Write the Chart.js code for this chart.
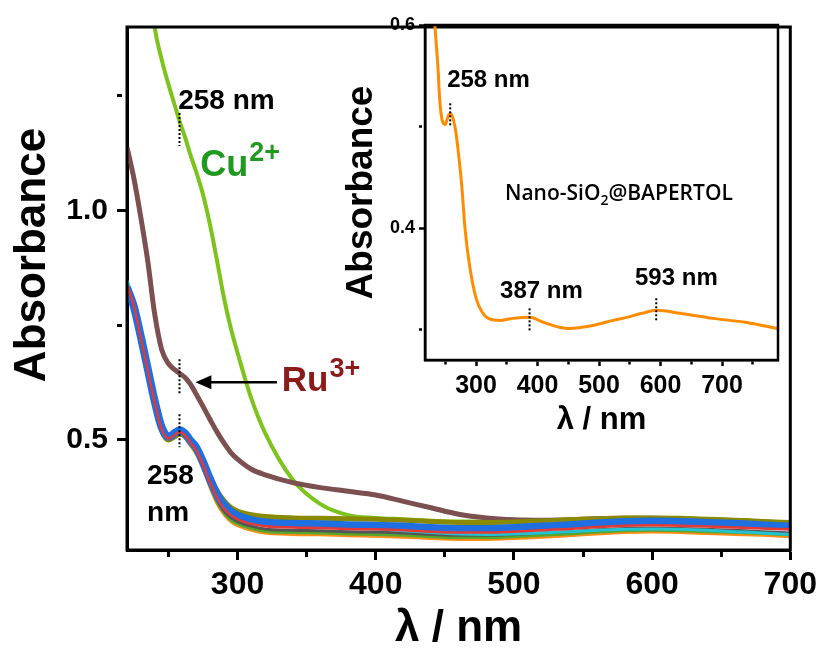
<!DOCTYPE html>
<html>
<head>
<meta charset="utf-8">
<title>UV-Vis absorbance</title>
<script src="https://cdn.jsdelivr.net/npm/chart.js@4.4.1/dist/chart.umd.min.js"></script>
<style>
  body { margin: 0; background: #fff; }
  #wrap { position: relative; width: 823px; height: 651px; }
  #mainChart { position: absolute; left: 0; top: 0; }
  #insetChart { position: absolute; left: 340px; top: 0; }
</style>
</head>
<body>
<div id="wrap">
  <canvas id="mainChart" width="823" height="651"></canvas>
  <canvas id="insetChart" width="450" height="440"></canvas>
</div>
<script>
// wavelengths (nm) shared by all spectra in the main panel
const wavelengths = [220, 225, 230, 235, 240, 245, 250, 255, 258, 262, 266, 270, 275, 280, 285, 290, 295, 300,
  310, 320, 340, 360, 380, 400, 420, 440, 460, 480, 500, 520, 540, 560, 580, 600, 620, 640, 660, 680, 700];

// Cu2+ and Ru3+ spectra
const cuAbs = [2.05, 1.88, 1.71, 1.54, 1.40, 1.330, 1.275, 1.225, 1.195, 1.160, 1.120, 1.085, 1.035, 0.970, 0.893, 0.812, 0.745, 0.690,
  0.590, 0.515, 0.413, 0.360, 0.336, 0.330, 0.327, 0.324, 0.322, 0.322, 0.323, 0.324, 0.326, 0.328, 0.330, 0.330, 0.329, 0.327, 0.325, 0.322, 0.320];
const ruAbs = [1.138, 1.070, 0.985, 0.890, 0.775, 0.698, 0.666, 0.652, 0.645, 0.636, 0.621, 0.600, 0.573, 0.545, 0.518, 0.494, 0.473, 0.458,
  0.436, 0.424, 0.407, 0.396, 0.388, 0.380, 0.366, 0.352, 0.338, 0.330, 0.326, 0.325, 0.326, 0.328, 0.329, 0.329, 0.328, 0.326, 0.324, 0.321, 0.319];

// the other metal ions, all close to the free ligand
const blueAbs = [0.832, 0.790, 0.725, 0.655, 0.585, 0.528, 0.507, 0.516, 0.521, 0.514, 0.498, 0.484, 0.452, 0.415, 0.382, 0.359, 0.344, 0.335,
  0.325, 0.320, 0.317, 0.316, 0.314, 0.313, 0.311, 0.308, 0.306, 0.306, 0.308, 0.311, 0.314, 0.318, 0.321, 0.322, 0.321, 0.319, 0.317, 0.314, 0.311];
const redAbs = [0.838, 0.792, 0.722, 0.652, 0.582, 0.524, 0.503, 0.512, 0.517, 0.510, 0.494, 0.478, 0.446, 0.408, 0.375, 0.351, 0.336, 0.327,
  0.317, 0.312, 0.309, 0.308, 0.306, 0.305, 0.303, 0.300, 0.298, 0.298, 0.300, 0.303, 0.306, 0.310, 0.313, 0.314, 0.313, 0.311, 0.309, 0.307, 0.305];
const oliveAbs = [0.835, 0.795, 0.728, 0.660, 0.585, 0.522, 0.500, 0.508, 0.513, 0.509, 0.496, 0.481, 0.452, 0.420, 0.390, 0.368, 0.353, 0.345,
  0.337, 0.333, 0.330, 0.329, 0.328, 0.327, 0.325, 0.322, 0.320, 0.320, 0.321, 0.323, 0.326, 0.328, 0.330, 0.330, 0.329, 0.327, 0.325, 0.322, 0.320];
const cyanAbs = [0.848, 0.800, 0.728, 0.662, 0.588, 0.527, 0.510, 0.519, 0.524, 0.517, 0.501, 0.486, 0.455, 0.418, 0.386, 0.363, 0.348, 0.339,
  0.329, 0.322, 0.317, 0.313, 0.309, 0.306, 0.302, 0.298, 0.295, 0.294, 0.295, 0.297, 0.300, 0.303, 0.305, 0.306, 0.305, 0.303, 0.300, 0.297, 0.294];
const grayAbs = [0.830, 0.788, 0.720, 0.652, 0.580, 0.520, 0.503, 0.511, 0.516, 0.508, 0.492, 0.475, 0.442, 0.404, 0.370, 0.346, 0.331, 0.322,
  0.312, 0.306, 0.303, 0.302, 0.300, 0.299, 0.297, 0.294, 0.292, 0.292, 0.294, 0.297, 0.300, 0.304, 0.307, 0.308, 0.307, 0.305, 0.303, 0.300, 0.297];
const greenAbs = [0.828, 0.786, 0.718, 0.650, 0.578, 0.518, 0.500, 0.508, 0.513, 0.505, 0.489, 0.472, 0.439, 0.400, 0.366, 0.342, 0.326, 0.317,
  0.307, 0.301, 0.298, 0.297, 0.295, 0.294, 0.292, 0.289, 0.287, 0.287, 0.289, 0.292, 0.295, 0.299, 0.302, 0.303, 0.302, 0.300, 0.298, 0.296, 0.293];
const orangeAbs = [0.826, 0.784, 0.716, 0.648, 0.576, 0.516, 0.498, 0.506, 0.511, 0.503, 0.487, 0.469, 0.436, 0.397, 0.362, 0.338, 0.322, 0.313,
  0.303, 0.297, 0.294, 0.293, 0.291, 0.290, 0.288, 0.285, 0.283, 0.283, 0.285, 0.288, 0.291, 0.295, 0.298, 0.299, 0.298, 0.296, 0.294, 0.292, 0.289];

// inset: Nano-SiO2@BAPERTOL alone
const insetNm = [217, 222, 228, 233, 238, 241, 245, 250, 254, 258, 263, 267, 271, 277, 282, 290, 300, 310, 320, 340,
  360, 387, 410, 437, 453, 470, 490, 523, 545, 570, 593, 632, 685, 740, 791];
const insetAbs = [0.76, 0.70, 0.65, 0.60, 0.559, 0.526, 0.506, 0.502, 0.509, 0.513, 0.507, 0.495, 0.476, 0.440, 0.400, 0.361,
  0.331, 0.317, 0.311, 0.309, 0.311, 0.312, 0.307, 0.302, 0.301, 0.302, 0.304, 0.309, 0.312, 0.316, 0.319, 0.316, 0.311, 0.307, 0.301];

// ticks and their labels
const mainXTicks = [250, 300, 350, 400, 450, 500, 550, 600, 650, 700];
const mainXLabels = ['', '300', '', '400', '', '500', '', '600', '', '700'];
const mainYTicks = [0.5, 0.75, 1.0, 1.25];
const mainYLabels = ['0.5', '', '1.0', ''];
const insetXTicks = [250, 300, 350, 400, 450, 500, 550, 600, 650, 700, 750];
const insetXLabels = ['', '300', '', '400', '', '500', '', '600', '', '700', ''];
const insetYTicks = [0.3, 0.4, 0.5, 0.6];
const insetYLabels = ['', '0.4', '', '0.6'];

const FONT = '"Liberation Sans", Arial, Helvetica, sans-serif';
Chart.defaults.font.family = FONT;
Chart.defaults.color = '#000';

function pts(xs, ys) {
  return xs.map((x, i) => ({ x: x, y: ys[i] }));
}

function line(label, ys, color, width) {
  return {
    label: label,
    data: pts(wavelengths, ys),
    borderColor: color,
    borderWidth: width,
    pointRadius: 0,
    cubicInterpolationMode: 'monotone',
    fill: false
  };
}

function valueAt(xs, ys, x) {
  return ys[xs.indexOf(x)];
}

// short dotted vertical marker through a point of a curve
function dottedMark(ctx, px, py, up, down) {
  ctx.save();
  ctx.strokeStyle = '#000';
  ctx.lineWidth = 2;
  ctx.setLineDash([2, 2]);
  ctx.beginPath();
  ctx.moveTo(px, py - up);
  ctx.lineTo(px, py + down);
  ctx.stroke();
  ctx.restore();
}

function label(ctx, text, px, py, font, color) {
  ctx.font = font;
  ctx.fillStyle = color || '#000';
  ctx.textAlign = 'left';
  ctx.textBaseline = 'alphabetic';
  ctx.fillText(text, px, py);
  return ctx.measureText(text).width;
}

// label with a superscript charge, e.g. Cu2+
function ionLabel(ctx, base, sup, px, py, size, color) {
  const w = label(ctx, base, px, py, 'bold ' + size + 'px ' + FONT, color);
  label(ctx, sup, px + w + 1, py - size * 0.42, 'bold ' + Math.round(size * 0.76) + 'px ' + FONT, color);
}

function frame(chart, width) {
  const a = chart.chartArea;
  const ctx = chart.ctx;
  ctx.save();
  ctx.strokeStyle = '#000';
  ctx.lineWidth = width;
  ctx.strokeRect(a.left, a.top, a.right - a.left, a.bottom - a.top);
  ctx.restore();
}

const mainNotes = {
  id: 'mainNotes',
  afterDraw(chart) {
    const { ctx, scales: { x, y } } = chart;
    frame(chart, 3);

    // y title, set a little above the middle of the axis
    ctx.save();
    ctx.translate(45, 255);
    ctx.rotate(-Math.PI / 2);
    ctx.font = 'bold 44px ' + FONT;
    ctx.fillStyle = '#000';
    ctx.textAlign = 'center';
    ctx.textBaseline = 'alphabetic';
    ctx.fillText('Absorbance', 0, 0);
    ctx.restore();

    // 258 nm band on Cu2+, Ru3+ and the rest
    const px = x.getPixelForValue(258);
    dottedMark(ctx, px, y.getPixelForValue(valueAt(wavelengths, cuAbs, 258)), 8, 25);
    dottedMark(ctx, px, y.getPixelForValue(valueAt(wavelengths, ruAbs, 258)), 14, 20);
    dottedMark(ctx, px, y.getPixelForValue(valueAt(wavelengths, blueAbs, 258)), 16, 17);

    const f28 = 'bold 28px ' + FONT;
    label(ctx, '258 nm', x.getPixelForValue(257), y.getPixelForValue(1.221), f28);
    label(ctx, '258', x.getPixelForValue(234.5), y.getPixelForValue(0.404), f28);
    label(ctx, 'nm', x.getPixelForValue(234.5), y.getPixelForValue(0.323), f28);

    ionLabel(ctx, 'Cu', '2+', x.getPixelForValue(273), y.getPixelForValue(1.075), 36, '#1f9a1f');
    ionLabel(ctx, 'Ru', '3+', x.getPixelForValue(332), y.getPixelForValue(0.606), 35, '#8b1a1a');

    // arrow pointing at the Ru3+ shoulder
    const ay = y.getPixelForValue(0.6255);
    const x1 = x.getPixelForValue(328.5);
    const x2 = x.getPixelForValue(269.5);
    ctx.save();
    ctx.strokeStyle = '#000';
    ctx.fillStyle = '#000';
    ctx.lineWidth = 2.5;
    ctx.beginPath();
    ctx.moveTo(x1, ay);
    ctx.lineTo(x2 + 12, ay);
    ctx.stroke();
    ctx.beginPath();
    ctx.moveTo(x2, ay);
    ctx.lineTo(x2 + 16, ay - 7);
    ctx.lineTo(x2 + 16, ay + 7);
    ctx.closePath();
    ctx.fill();
    ctx.restore();
  }
};

const insetNotes = {
  id: 'insetNotes',
  afterDraw(chart) {
    const { ctx, scales: { x, y } } = chart;
    frame(chart, 2.5);

    dottedMark(ctx, x.getPixelForValue(258), y.getPixelForValue(valueAt(insetNm, insetAbs, 258)), 10, 14);
    dottedMark(ctx, x.getPixelForValue(387), y.getPixelForValue(valueAt(insetNm, insetAbs, 387)), 9, 15);
    dottedMark(ctx, x.getPixelForValue(593), y.getPixelForValue(valueAt(insetNm, insetAbs, 593)), 12, 10);

    const f24 = 'bold 24px ' + FONT;
    label(ctx, '258 nm', x.getPixelForValue(253), y.getPixelForValue(0.539), f24);
    label(ctx, '387 nm', x.getPixelForValue(339), y.getPixelForValue(0.331), f24);
    label(ctx, '593 nm', x.getPixelForValue(558.5), y.getPixelForValue(0.344), f24);

    // sample name with subscript 2
    const nf = '600 21px "Open Sans", ' + FONT;
    let nx = x.getPixelForValue(347);
    const ny = y.getPixelForValue(0.4276);
    nx += label(ctx, 'Nano-SiO', nx, ny, nf);
    nx += label(ctx, '2', nx, ny + 5, '600 14px "Open Sans", ' + FONT);
    label(ctx, '@BAPERTOL', nx, ny, nf);
  }
};

function axisOpts(min, max, tickVals, tickLabels, o) {
  return {
    type: 'linear',
    min: min,
    max: max,
    afterBuildTicks: axis => { axis.ticks = tickVals.map(v => ({ value: v })); },
    afterFit: axis => {
      if (axis.isHorizontal()) axis.height = o.size; else axis.width = o.size;
    },
    border: { display: true, color: '#000', width: o.line },
    grid: {
      drawOnChartArea: false,
      drawTicks: true,
      tickLength: o.tick,
      tickWidth: o.line,
      tickColor: '#000',
      tickBorderDash: c => (tickLabels[c.index] === '' ? [o.tick / 2, 40] : [])
    },
    ticks: {
      autoSkip: false,
      maxRotation: 0,
      padding: o.pad,
      color: '#000',
      font: { size: o.font, weight: 'bold' },
      callback: (v, i) => tickLabels[i]
    },
    title: {
      display: !!o.title,
      text: o.title,
      color: '#000',
      font: { size: o.titleSize, weight: 'bold', lineHeight: 1 },
      padding: o.titlePad
    }
  };
}

new Chart(document.getElementById('mainChart'), {
  type: 'line',
  data: {
    datasets: [
      line('red', redAbs, '#e53935', 2.5),
      line('blue', blueAbs, '#1f6fe0', 8),
      line('olive', oliveAbs, '#8a8a00', 5),
      line('cyan', cyanAbs, '#22c4d4', 3),
      line('gray', grayAbs, '#555555', 3),
      line('green', greenAbs, '#55a82a', 3),
      line('orange', orangeAbs, '#ff8c1a', 3),
      line('Ru3+', ruAbs, '#7c5050', 5),
      line('Cu2+', cuAbs, '#7cc41c', 4)
    ]
  },
  options: {
    responsive: false,
    animation: false,
    devicePixelRatio: 1,
    layout: { padding: { left: 0, top: 15, right: 32, bottom: 0 } },
    plugins: { legend: { display: false }, tooltip: { enabled: false } },
    scales: {
      x: axisOpts(220, 700, mainXTicks, mainXLabels,
        { size: 101, line: 3, tick: 10, pad: 6, font: 32, title: 'λ / nm', titleSize: 44, titlePad: { top: 0, bottom: 0 } }),
      // its title is drawn by mainNotes
      y: axisOpts(0.26, 1.4, mainYTicks, mainYLabels,
        { size: 127, line: 3, tick: 10, pad: 9, font: 30, title: '' })
    }
  },
  plugins: [mainNotes]
});

new Chart(document.getElementById('insetChart'), {
  type: 'line',
  data: {
    datasets: [{
      label: 'Nano-SiO2@BAPERTOL',
      data: pts(insetNm, insetAbs),
      borderColor: '#ff8c00',
      borderWidth: 3,
      pointRadius: 0,
      cubicInterpolationMode: 'monotone',
      fill: false
    }]
  },
  options: {
    responsive: false,
    animation: false,
    devicePixelRatio: 1,
    layout: { padding: { left: 0, top: 25, right: 12, bottom: 0 } },
    plugins: { legend: { display: false }, tooltip: { enabled: false } },
    scales: {
      x: axisOpts(217, 791, insetXTicks, insetXLabels,
        { size: 80, line: 2.5, tick: 6, pad: 5, font: 25, title: 'λ / nm', titleSize: 31, titlePad: { top: 0, bottom: 4 } }),
      y: axisOpts(0.27, 0.6, insetYTicks, insetYLabels,
        { size: 85, line: 2.5, tick: 6, pad: 4, font: 18, title: 'Absorbance', titleSize: 37, titlePad: { top: 3, bottom: 0 } })
    }
  },
  plugins: [insetNotes]
});
</script>
</body>
</html>
